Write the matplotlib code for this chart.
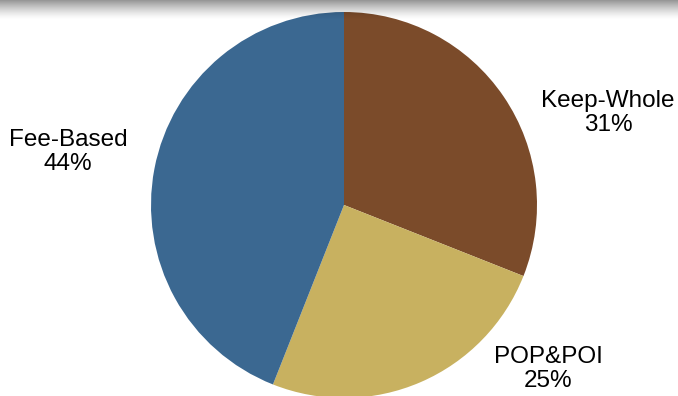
import matplotlib.pyplot as plt
import numpy as np

# contract mix by type (%)
labels = ['Keep-Whole', 'POP&POI', 'Fee-Based']
shares = [31, 25, 44]
colors = ['#7B4B2A', '#C8B160', '#3B6891']

# label anchor points (pixels, origin bottom-left)
label_pos = [(608, 283), (548, 27), (68, 244)]

plt.rcParams['font.family'] = ['Liberation Sans', 'DejaVu Sans']

fig = plt.figure(figsize=(6.78, 3.96), dpi=100)
ax = fig.add_axes([0, 0, 1, 1])

ax.pie(shares, colors=colors, startangle=90, counterclock=False,
       center=(344, 191), radius=193, frame=True,
       wedgeprops=dict(linewidth=0))

for name, val, (x, y) in zip(labels, shares, label_pos):
    ax.text(x, y, f'{name}\n{val}%', ha='center', va='center',
            fontsize=17.5, linespacing=1.1, color='black')

# soft grey shadow along the top edge
grad = np.linspace(0, 1, 64).reshape(-1, 1)
shade = np.zeros((64, 1, 4))
shade[..., 3] = 0.42 * (1 - grad) ** 1.4
ax.imshow(shade, extent=(0, 678, 376, 396), aspect='auto', zorder=10,
          origin='upper')

ax.set_xlim(0, 678)
ax.set_ylim(0, 396)
ax.set_aspect('auto')
ax.axis('off')

fig.savefig('out.png', dpi=100)
